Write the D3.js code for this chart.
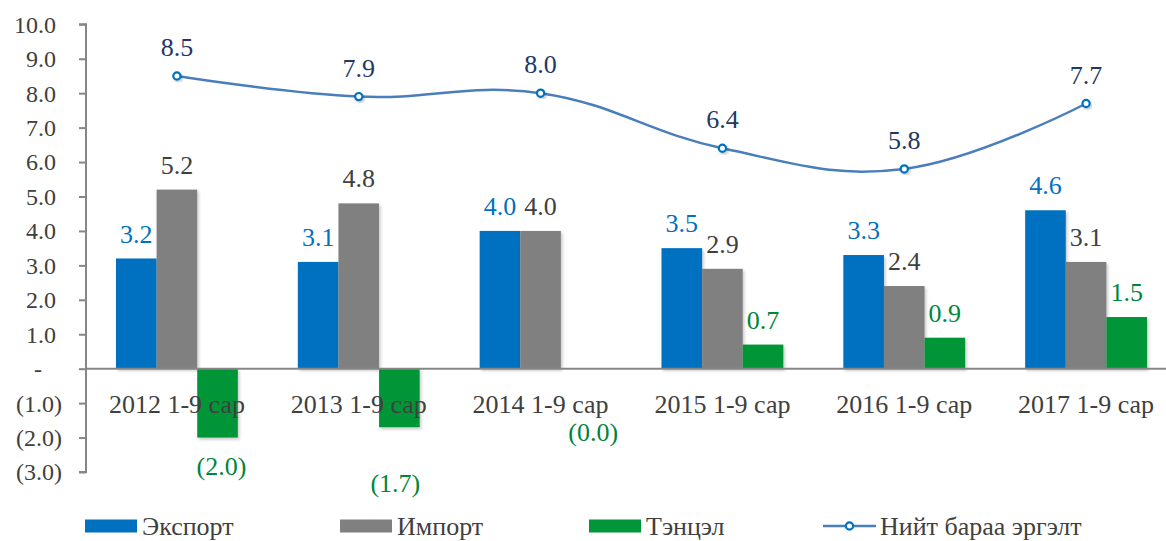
<!DOCTYPE html>
<html>
<head>
<meta charset="utf-8">
<script src="https://cdn.jsdelivr.net/npm/d3@7"></script>
<style>
  html, body { margin: 0; padding: 0; background: #fff; }
  svg text { font-family: "Liberation Serif", "Times New Roman", Times, serif; }
</style>
</head>
<body>
<svg id="chart" width="1166" height="541" font-family="Liberation Serif, serif"></svg>
<script>
const categories = ["2012 1-9 сар", "2013 1-9 сар", "2014 1-9 сар", "2015 1-9 сар", "2016 1-9 сар", "2017 1-9 сар"];
const exportValues = [3.2, 3.1, 4.0, 3.5, 3.3, 4.6];
const importValues = [5.2, 4.8, 4.0, 2.9, 2.4, 3.1];
const balanceValues = [-2.0, -1.7, -0.0, 0.7, 0.9, 1.5];
const totalValues = [8.5, 7.9, 8.0, 6.4, 5.8, 7.7];
const seriesNames = ["Экспорт", "Импорт", "Тэнцэл", "Нийт бараа эргэлт"];
const yTicks = [10, 9, 8, 7, 6, 5, 4, 3, 2, 1, 0, -1, -2, -3];

const colors = { exp: "#0070C0", imp: "#808080", bal: "#009639", line: "#4A7EBB" };
const labelColors = { exp: "#0070C0", imp: "#404040", bal: "#00863A", line: "#1F3864" };

const svg = d3.select("#chart");
const defs = svg.append("defs");
const f = defs.append("filter").attr("id", "sh").attr("x", "-20%").attr("y", "-20%").attr("width", "150%").attr("height", "150%");
f.append("feDropShadow").attr("dx", 1.5).attr("dy", 2).attr("stdDeviation", 1.5).attr("flood-color", "#000").attr("flood-opacity", 0.22);

const axisX = 86;
const y = d3.scaleLinear().domain([-3, 10]).range([472, 24.3]);
const x0 = d3.scaleBand().domain(categories).range([axisX, 1177]).paddingInner(0).paddingOuter(0);
const x1 = d3.scaleBand().domain(["exp", "imp", "bal"]).range([30, x0.bandwidth() - 30]).padding(0);

// Y axis
const yAxis = d3.axisLeft(y).tickValues(yTicks).tickSize(7).tickFormat(() => "");
const ya = svg.append("g").attr("transform", `translate(${axisX},0)`).call(yAxis);
ya.select(".domain").attr("stroke", "#868686").attr("stroke-width", 2).attr("d", `M-7,${y(10)}H0V${y(-3)}H-7`);
ya.selectAll(".tick line").attr("stroke", "#868686").attr("stroke-width", 2);

// tick labels (accounting style)
svg.append("g").selectAll("text").data(yTicks).join("text")
  .attr("x", d => d > 0 ? 56 : (d < 0 ? 62 : 38))
  .attr("y", d => y(d))
  .attr("dy", "0.35em")
  .attr("text-anchor", d => d === 0 ? "middle" : "end")
  .attr("font-size", 24)
  .attr("fill", "#404040")
  .text(d => d > 0 ? d.toFixed(1) : (d < 0 ? `(${Math.abs(d).toFixed(1)})` : "-"));

// bars
const rows = categories.map((c, i) => ({ c, exp: exportValues[i], imp: importValues[i], bal: balanceValues[i] }));
const groups = svg.append("g").selectAll("g").data(rows).join("g")
  .attr("transform", d => `translate(${x0(d.c)},0)`);
groups.selectAll("rect").data(d => ["exp", "imp", "bal"].map(k => ({ k, v: d[k] }))).join("rect")
  .attr("x", d => x1(d.k))
  .attr("width", x1.bandwidth())
  .attr("y", d => y(Math.max(0, d.v)))
  .attr("height", d => Math.abs(y(d.v) - y(0)))
  .attr("fill", d => colors[d.k])
  .attr("filter", "url(#sh)");

// zero line
svg.append("line").attr("x1", axisX).attr("x2", 1166).attr("y1", y(0)).attr("y2", y(0))
  .attr("stroke", "#868686").attr("stroke-width", 2);

// category labels
svg.append("g").selectAll("text").data(categories).join("text")
  .attr("x", d => x0(d) + x0.bandwidth() / 2)
  .attr("y", y(0) + 35)
  .attr("dy", "0.35em")
  .attr("text-anchor", "middle")
  .attr("font-size", 26)
  .attr("fill", "#404040")
  .text(d => d);

// bar labels
const negLabelDy = { 0: 28, 1: 56, 2: 63 };
const negLabelDx = { 0: 4, 1: -4, 2: 12 };
groups.each(function (d, i) {
  const g = d3.select(this);
  ["exp", "imp", "bal"].forEach(k => {
    const v = d[k];
    const cx = x1(k) + x1.bandwidth() / 2;
    let ty, tx = cx;
    const neg = v < 0 || Object.is(v, -0);
    if (neg) { ty = y(v) + (negLabelDy[i] || 28); tx = cx + (negLabelDx[i] || 0); }
    else ty = y(v) - 25;
    g.append("text")
      .attr("x", tx).attr("y", ty).attr("dy", "0.35em")
      .attr("text-anchor", "middle")
      .attr("font-size", 26)
      .attr("fill", labelColors[k])
      .text(neg ? `(${Math.abs(v).toFixed(1)})` : v.toFixed(1));
  });
});

// total line
const cxOf = (c) => x0(c) + x0.bandwidth() / 2;
const line = d3.line().x((d, i) => cxOf(categories[i])).y(d => y(d)).curve(d3.curveCardinal.tension(-0.2));
svg.append("path").datum(totalValues).attr("d", line)
  .attr("fill", "none").attr("stroke", colors.line).attr("stroke-width", 2.5);
svg.append("g").selectAll("circle").data(totalValues).join("circle")
  .attr("cx", (d, i) => cxOf(categories[i])).attr("cy", d => y(d)).attr("r", 3.6)
  .attr("fill", "#fff").attr("stroke", "#0070C0").attr("stroke-width", 2.2)
  .attr("filter", "url(#sh)");
svg.append("g").selectAll("text").data(totalValues).join("text")
  .attr("x", (d, i) => cxOf(categories[i])).attr("y", d => y(d) - 29).attr("dy", "0.35em")
  .attr("text-anchor", "middle").attr("font-size", 26).attr("fill", labelColors.line)
  .text(d => d.toFixed(1));

// legend
const legendY = 526;
const legendItems = [
  { name: seriesNames[0], key: "exp", x: 85 },
  { name: seriesNames[1], key: "imp", x: 340 },
  { name: seriesNames[2], key: "bal", x: 589 },
  { name: seriesNames[3], key: "line", x: 823 }
];
const lg = svg.append("g").selectAll("g").data(legendItems).join("g")
  .attr("transform", d => `translate(${d.x},${legendY})`);
lg.each(function (d) {
  const g = d3.select(this);
  if (d.key === "line") {
    g.append("line").attr("x1", 0).attr("x2", 53).attr("y1", 0).attr("y2", 0)
      .attr("stroke", colors.line).attr("stroke-width", 2.5);
    g.append("circle").attr("cx", 26.5).attr("cy", 0).attr("r", 3.6)
      .attr("fill", "#fff").attr("stroke", "#0070C0").attr("stroke-width", 2.2);
  } else {
    g.append("rect").attr("x", 0).attr("y", -6.5).attr("width", 52).attr("height", 13).attr("fill", colors[d.key]);
  }
  g.append("text").attr("x", 57).attr("y", 0).attr("dy", "0.35em")
    .attr("font-size", 26).attr("fill", "#404040").text(d.name);
});
</script>
</body>
</html>
